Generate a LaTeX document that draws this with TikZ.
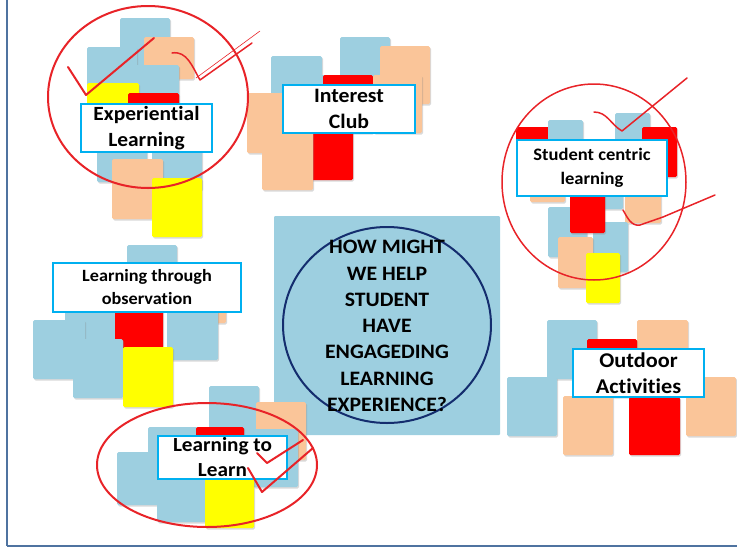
\documentclass[tikz,border=0pt]{standalone}
\usepackage{fontspec}
\setmainfont{Carlito}[Ligatures=NoCommon, FakeStretch=1.06]
\usetikzlibrary{shadows}
\usetikzlibrary{shapes.geometric}

\definecolor{noteblue}{RGB}{157,207,224}
\definecolor{notepeach}{RGB}{250,197,153}
\definecolor{notered}{RGB}{255,0,0}
\definecolor{noteyellow}{RGB}{255,255,0}
\definecolor{tagcyan}{RGB}{0,176,240}
\definecolor{ringnavy}{RGB}{20,45,110}
\definecolor{inkred}{RGB}{232,35,40}
\definecolor{frameblue}{RGB}{79,115,160}

\tikzset{
  sticky/.style={rounded corners=1.5pt, drop shadow={shadow xshift=1.2pt, shadow yshift=-1.5pt, opacity=0.3}},
  bnote/.style={sticky, fill=noteblue},
  pnote/.style={sticky, fill=notepeach},
  rnote/.style={sticky, fill=notered},
  ynote/.style={sticky, fill=noteyellow},
  tag/.style={draw=tagcyan, line width=2.5pt, fill=white, inner sep=0pt, align=center, font=\fontsize{20.2}{26}\selectfont\bfseries},
  ink/.style={draw=inkred, line width=2pt, line cap=round, line join=round},
}

\begin{document}
\begin{tikzpicture}[x=1pt, y=-1pt]
  \useasboundingbox (0,0) rectangle (737,547);
  % frame
  \draw[frameblue, line width=2.5pt] (7,0) -- (7,546);
  \draw[frameblue, line width=1.5pt] (7,546) -- (737,546);

  % question square
  \path[fill=noteblue, rounded corners=1pt] (274,216) rectangle (500,435);
  \draw[ringnavy, line width=2pt] (387,325) ellipse [x radius=104, y radius=98];
  \node[align=center, font=\fontsize{20.5}{26.3}\selectfont\bfseries] (question) at (387,326)
    {HOW MIGHT\\WE HELP\\STUDENT\\HAVE\\ENGAGEDING\\LEARNING\\EXPERIENCE?};

  % experiential learning cluster
  \path[bnote] (120,18) rectangle ++(50,58);
  \path[pnote] (144,37) rectangle ++(50,42);
  \path[bnote] (87,47) rectangle ++(50,60);
  \path[bnote] (128,65) rectangle ++(51,50);
  \path[ynote] (87,83) rectangle ++(52,42);
  \path[rnote] (128,93) rectangle ++(51,40);
  \path[bnote] (97,124) rectangle ++(50,58);
  \path[bnote] (152,132) rectangle ++(50,58);
  \path[pnote] (112,159) rectangle ++(51,60);
  \path[ynote] (152,178) rectangle ++(50,59);
  \node[tag, minimum width=131pt, minimum height=48pt] (experiential) at (146.5,128) {Experiential\\Learning};

  % interest club cluster
  \path[bnote] (271,56) rectangle ++(51,58);
  \path[bnote] (340,37) rectangle ++(50,58);
  \path[pnote] (380,46) rectangle ++(50,58);
  \path[pnote] (247,93) rectangle ++(50,60);
  \path[bnote] (287,75) rectangle ++(50,58);
  \path[rnote] (323,75) rectangle ++(50,58);
  \path[pnote] (373,75) rectangle ++(49,58);
  \path[rnote] (303,122) rectangle ++(50,58);
  \path[pnote] (262,130) rectangle ++(51,60);
  \node[tag, font=\fontsize{20.5}{26}\selectfont\bfseries, minimum width=132pt, minimum height=48pt] (interest) at (349,109) {Interest\\Club};

  % student centric cluster
  \path[rnote] (516,127) rectangle ++(35,50);
  \path[bnote] (548,120) rectangle ++(35,50);
  \path[bnote] (615,113) rectangle ++(35,50);
  \path[rnote] (642,127) rectangle ++(35,50);
  \path[pnote] (530,152) rectangle ++(35,50);
  \path[bnote] (588,159) rectangle ++(35,50);
  \path[pnote] (625,173) rectangle ++(36,50);
  \path[bnote] (548,207) rectangle ++(39,50);
  \path[bnote] (593,222) rectangle ++(35,50);
  \path[rnote] (570,183) rectangle ++(35,50);
  \path[pnote] (558,237) rectangle ++(35,51);
  \path[ynote] (586,253) rectangle ++(34,50);
  \node[tag, font=\fontsize{17.5}{24}\selectfont\bfseries, minimum width=150pt, minimum height=56pt] (centric) at (592,168) {Student centric\\learning};

  % learning through observation cluster
  \path[bnote] (127,245) rectangle ++(50,58);
  \path[pnote] (176,265) rectangle ++(50,58);
  \path[bnote] (65,290) rectangle ++(52,58);
  \path[rnote] (115,290) rectangle ++(48,58);
  \path[bnote] (167,302) rectangle ++(51,58);
  \path[bnote] (33,320) rectangle ++(52,59);
  \path[bnote] (73,339) rectangle ++(50,59);
  \path[ynote] (123,347) rectangle ++(50,60);
  \node[tag, font=\fontsize{17.2}{23}\selectfont\bfseries, minimum width=188pt, minimum height=49pt] (observation) at (147,287.5) {Learning through\\observation};

  % learning to learn cluster
  \path[bnote] (209,386) rectangle ++(50,58);
  \path[pnote] (256,402) rectangle ++(50,58);
  \path[bnote] (148,427) rectangle ++(50,50);
  \path[rnote] (196,427) rectangle ++(48,40);
  \path[bnote] (253,429) rectangle ++(45,58);
  \path[bnote] (117,452) rectangle ++(50,53);
  \path[bnote] (157,470) rectangle ++(51,52);
  \path[ynote] (205,477) rectangle ++(49,51);
  \node[tag, font=\fontsize{20}{25}\selectfont\bfseries, minimum width=129pt, minimum height=43pt] (tolearn) at (222.5,457.5) {Learning to\\Learn};

  % outdoor activities cluster
  \path[bnote] (547,320) rectangle ++(50,59);
  \path[pnote] (637,320) rectangle ++(51,59);
  \path[rnote] (587,339) rectangle ++(50,58);
  \path[bnote] (507,377) rectangle ++(50,59);
  \path[pnote] (686,377) rectangle ++(50,59);
  \path[pnote] (563,396) rectangle ++(50,59);
  \path[rnote] (629,397) rectangle ++(51,58);
  \node[tag, font=\fontsize{21}{26}\selectfont\bfseries, minimum width=131pt, minimum height=48pt] (outdoor) at (638.5,373) {Outdoor\\Activities};

  % red marks
  \draw[ink] (148,97) ellipse [x radius=100, y radius=91];
  \draw[ink] (68,67) -- (86,95) -- (154,38);
  \draw[ink, line width=1.5pt] (172,53) to[out=10, in=120] (200,80) -- (252,43);
  \draw[ink, line width=0.6pt] (196,78) -- (260,31);
  \draw[ink, line width=1.5pt] (594,182) ellipse [x radius=92, y radius=98];
  \draw[ink, line width=1.5pt] (594,112) to[out=0, in=150] (622,131) -- (687,78);
  \draw[ink, line width=1.5pt] (623,210) to[out=-60, in=190] (640,225) -- (663,217) -- (715,195);
  \draw[ink] (207,465) ellipse [x radius=110, y radius=62];
  \draw[ink] (257,453) -- (267,463) -- (303,440);
  \draw[ink] (248,468) -- (262,492) -- (313,448);
\end{tikzpicture}
\end{document}
